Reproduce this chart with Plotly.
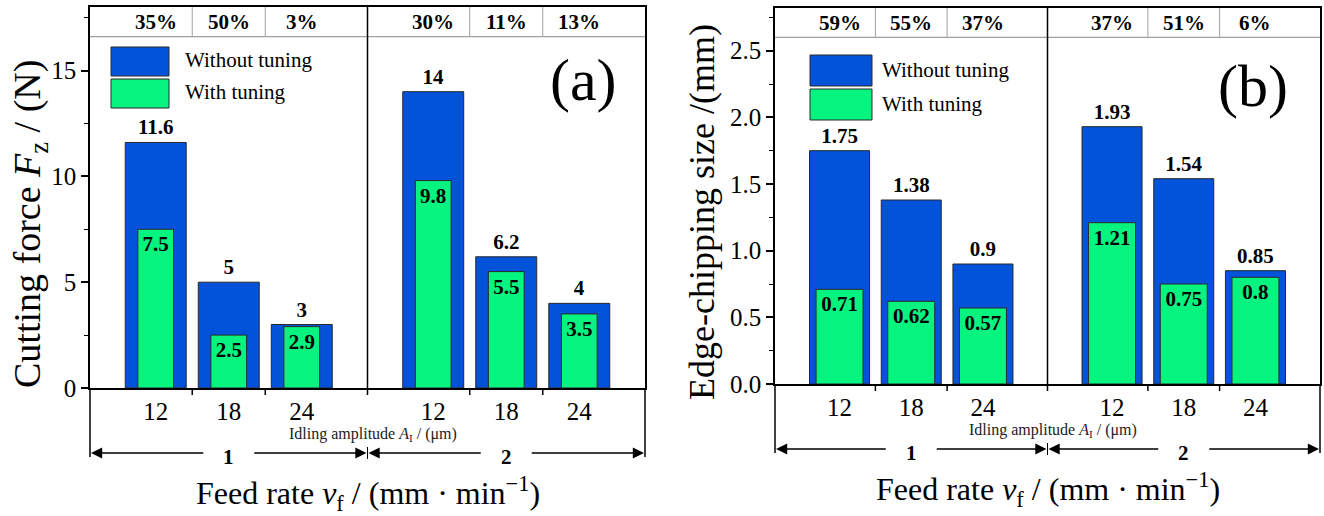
import plotly.graph_objects as go

W, H = 1324, 516
SERIF = "Liberation Serif"
BLUE = "#0352DA"
GREEN = "#05F47F"
EDGE = "#2a2a2a"

# ---------------- data ----------------
feed_groups = ["1", "2"]
amplitudes = ["12", "18", "24"]
series_names = ["Without tuning", "With tuning"]

force_without = [11.6, 5, 3, 14, 6.2, 4]
force_with = [7.5, 2.5, 2.9, 9.8, 5.5, 3.5]
force_reduction = ["35%", "50%", "3%", "30%", "11%", "13%"]

chip_without = [1.75, 1.38, 0.9, 1.93, 1.54, 0.85]
chip_with = [0.71, 0.62, 0.57, 1.21, 0.75, 0.8]
chip_reduction = ["59%", "55%", "37%", "37%", "51%", "6%"]

# ---------------- layout helpers ----------------
GROUP_STEP = 3.8
XR = (0.1, 7.7)
xs = [g * GROUP_STEP + i + 1 for g in range(len(feed_groups)) for i in range(len(amplitudes))]
divider_x = (xs[2] + xs[3]) / 2
boundaries = [(xs[i] + xs[i + 1]) / 2 for i in (0, 1, 3, 4)]


def pxx(p):
    return p / W


def pxy(p):
    return 1 - p / H


def note(x, y, text, size, color="black", xanchor="center", yanchor="middle", **kw):
    d = dict(x=x, y=y, xref="paper", yref="paper", text=text, showarrow=False,
             xanchor=xanchor, yanchor=yanchor,
             font=dict(family=SERIF, size=size, color=color))
    d.update(kw)
    return d


panels = [
    dict(key="", L=90, R=645, zero=388, top=7, ymax=18, strip=16.6, major=5, minor=2.5,
         fmt="", wb=0.835, wg=0.49, without=force_without, with_=force_with,
         red=force_reduction, ytitle="Cutting force <i>F</i><sub>z</sub> / (N)",
         ytx=30, yty=224, ytsize=38, tag="(a)", tagx=583, tagy=80,
         leg=(111, 169, 47, 76, 79, 108, 183), arrow_y=453, ftx_y=493),
    dict(key="2", L=775, R=1320, zero=384, top=8, ymax=2.82, strip=2.6, major=0.5, minor=0.25,
         fmt=".1f", wb=0.837, wg=0.655, without=chip_without, with_=chip_with,
         red=chip_reduction, ytitle="Edge-chipping size /(mm)",
         ytx=702, yty=212, ytsize=36, tag="(b)", tagx=1253, tagy=86,
         leg=(810, 872, 55, 86, 89, 120, 880), arrow_y=449, ftx_y=489),
]

fig = go.Figure()
shapes = []
annots = []
layout_axes = {}

for p in panels:
    k = p["key"]
    xa = "x" + k
    ya = "y" + k
    L, R, Z, T = p["L"], p["R"], p["zero"], p["top"]
    ppx = (R - L) / (XR[1] - XR[0])
    ppy = (Z - T) / p["ymax"]

    def dx(x, L=L, ppx=ppx):
        return pxx(L + (x - XR[0]) * ppx)

    def dy(y, Z=Z, ppy=ppy):
        return pxy(Z - y * ppy)

    fig.add_trace(go.Bar(
        x=xs, y=p["without"], width=p["wb"], name=series_names[0],
        marker=dict(color=BLUE, line=dict(color=EDGE, width=1)),
        text=[f"{v:g}" for v in p["without"]],
        texttemplate="<b>%{text}</b>", textposition="outside", cliponaxis=False,
        textfont=dict(family=SERIF, size=21, color="black"),
        xaxis=xa, yaxis=ya, showlegend=False))
    fig.add_trace(go.Bar(
        x=xs, y=p["with_"], width=p["wg"], name=series_names[1],
        marker=dict(color=GREEN, line=dict(color=EDGE, width=1)),
        text=[f"{v:g}" for v in p["with_"]],
        texttemplate="<b>%{text}</b>", textposition="inside", insidetextanchor="end",
        constraintext="none", textangle=0,
        textfont=dict(family=SERIF, size=21, color="black"),
        xaxis=xa, yaxis=ya, showlegend=False))

    nmaj = int(round(p["ymax"] // p["major"]))
    tv = [round(i * p["major"], 3) for i in range(nmaj + 1)]
    layout_axes["xaxis" + k] = dict(
        domain=[pxx(L), pxx(R)], range=list(XR), anchor=ya,
        showline=True, linecolor="black", linewidth=1.5, mirror=True,
        tickvals=xs, ticktext=amplitudes * len(feed_groups), ticks="",
        tickfont=dict(family=SERIF, size=25, color="black"),
        showgrid=False, zeroline=False)
    layout_axes["yaxis" + k] = dict(
        domain=[pxy(Z), pxy(T)], range=[0, p["ymax"]], anchor=xa,
        showline=True, linecolor="black", linewidth=1.5, mirror=True,
        ticks="outside", ticklen=7, tickwidth=1.5, tickcolor="black",
        tickvals=tv, tickformat=p["fmt"],
        minor=dict(dtick=p["minor"], tick0=0, ticks="outside", ticklen=4,
                   tickwidth=1.2, tickcolor="black"),
        tickfont=dict(family=SERIF, size=25, color="black"),
        showgrid=False, zeroline=False)

    # percentage strip
    shapes.append(dict(type="line", xref="paper", yref="paper", x0=dx(XR[0]), x1=dx(XR[1]),
                       y0=dy(p["strip"]), y1=dy(p["strip"]), line=dict(color="#a0a0a0", width=1.2)))
    for b in boundaries:
        shapes.append(dict(type="line", xref="paper", yref="paper", x0=dx(b), x1=dx(b),
                           y0=dy(p["strip"]), y1=dy(p["ymax"]), line=dict(color="#a0a0a0", width=1)))
        shapes.append(dict(type="line", xref="paper", yref="paper", x0=dx(b), x1=dx(b),
                           y0=dy(0), y1=pxy(Z + 7), line=dict(color="black", width=1.5)))
    for x, t in zip(xs, p["red"]):
        annots.append(note(dx(x), dy((p["strip"] + p["ymax"]) / 2), "<b>%s</b>" % t, 21))
    # group divider
    shapes.append(dict(type="line", xref="paper", yref="paper", x0=dx(divider_x), x1=dx(divider_x),
                       y0=dy(p["ymax"]), y1=pxy(Z + 7), line=dict(color="black", width=1.5)))
    # frame extension below axis
    ay = p["arrow_y"]
    for xe in (XR[0], XR[1]):
        shapes.append(dict(type="line", xref="paper", yref="paper", x0=dx(xe), x1=dx(xe),
                           y0=dy(0), y1=pxy(ay + 4), line=dict(color="black", width=1.5)))
    shapes.append(dict(type="line", xref="paper", yref="paper", x0=dx(divider_x), x1=dx(divider_x),
                       y0=pxy(ay - 6), y1=pxy(ay + 6), line=dict(color="black", width=1)))

    # group arrows with labels
    edges = [XR[0], divider_x, XR[1]]
    for gi, g in enumerate(feed_groups):
        a0, a1 = edges[gi], edges[gi + 1]
        cpx = L + ((a0 + a1) / 2 - XR[0]) * ppx
        lpx = L + (a0 - XR[0]) * ppx
        rpx = L + (a1 - XR[0]) * ppx
        annots.append(note(pxx(cpx), pxy(ay + 4), "<b>%s</b>" % g, 21))
        for head, tail in ((lpx + 1, cpx - 24), (rpx - 1, cpx + 24)):
            annots.append(dict(x=pxx(head), y=pxy(ay), xref="paper", yref="paper",
                               ax=tail - head, ay=0, axref="pixel", ayref="pixel",
                               text="", showarrow=True, arrowhead=2, arrowsize=1.6,
                               arrowwidth=1.4, arrowcolor="black", standoff=0))

    mid = pxx(L + (divider_x - XR[0]) * ppx + 5)
    annots.append(note(mid, pxy(ay - 19), "Idling amplitude <i>A</i><sub>I</sub> / (μm)", 16,
                       color="#222222"))
    annots.append(note(pxx((L + R) / 2), pxy(p["ftx_y"]),
                       "Feed rate <i>v</i><sub>f</sub> / (mm · min<sup>−1</sup>)", 32))
    annots.append(note(pxx(p["ytx"]), pxy(p["yty"]), p["ytitle"], p["ytsize"], textangle=-90))
    annots.append(note(pxx(p["tagx"]), pxy(p["tagy"]), p["tag"], 60))

    # legend
    lx0, lx1, b0, b1, g0, g1, tx = p["leg"]
    for (y0, y1, col, name) in ((b0, b1, BLUE, series_names[0]), (g0, g1, GREEN, series_names[1])):
        shapes.append(dict(type="rect", xref="paper", yref="paper", x0=pxx(lx0), x1=pxx(lx1),
                           y0=pxy(y1), y1=pxy(y0), fillcolor=col, line=dict(color=EDGE, width=1)))
        annots.append(note(pxx(tx), pxy((y0 + y1) / 2 - 1), name, 21, xanchor="left"))

fig.update_layout(
    width=W, height=H, template="none",
    margin=dict(l=0, r=0, t=0, b=0),
    paper_bgcolor="white", plot_bgcolor="rgba(0,0,0,0)",
    barmode="overlay", showlegend=False,
    shapes=shapes, annotations=annots,
    **layout_axes)

fig.write_html("out.html")
